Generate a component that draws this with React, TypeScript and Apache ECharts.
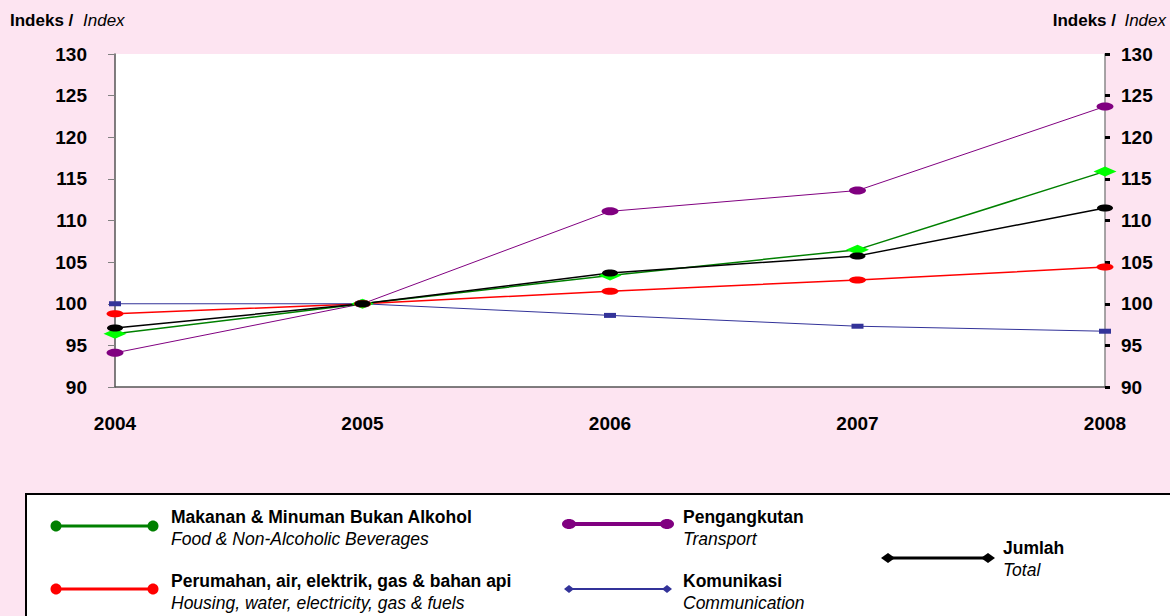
import React, { useEffect, useRef } from "react";
import * as echarts from "echarts";

const years = ["2004", "2005", "2006", "2007", "2008"];
const yTicks = { min: 90, max: 130, interval: 5 };
const food = [96.4, 100, 103.4, 106.5, 115.9];
const housing = [98.8, 100, 101.5, 102.85, 104.4];
const transport = [94.1, 100, 111.1, 113.6, 123.7];
const communication = [100, 100, 98.6, 97.3, 96.7];
const total = [97.1, 100, 103.7, 105.75, 111.5];

const ELLIPSE =
  "path://M0,5C0,2.24 2.24,0 5,0C7.76,0 10,2.24 10,5C10,7.76 7.76,10 5,10C2.24,10 0,7.76 0,5Z";
const FONT = "'Liberation Sans', Arial, sans-serif";

function legendLine(x1: number, x2: number, y: number, color: string, width: number, marker: any) {
  const ends = [x1, x2].map((x) => {
    if (marker.kind === "circle") {
      return { type: "ellipse", shape: { cx: x, cy: y, rx: marker.w / 2, ry: marker.h / 2 }, style: { fill: marker.color || color } };
    }
    return {
      type: "polygon",
      shape: { points: [[x - marker.w / 2, y], [x, y - marker.h / 2], [x + marker.w / 2, y], [x, y + marker.h / 2]] },
      style: { fill: marker.color || color },
    };
  });
  return [{ type: "line", shape: { x1, y1: y, x2, y2: y }, style: { stroke: color, lineWidth: width } }, ...ends];
}

function legendText(x: number, y: number, bold: string, italic: string) {
  return [
    { type: "text", x, y, style: { text: bold, font: `bold 17.5px ${FONT}`, fill: "#000", textVerticalAlign: "middle" } },
    { type: "text", x, y: y + 22, style: { text: italic, font: `italic 17.5px ${FONT}`, fill: "#000", textVerticalAlign: "middle" } },
  ];
}

export default function App() {
  const ref = useRef<HTMLDivElement>(null);
  useEffect(() => {
    if (!ref.current) return;
    const chart = echarts.init(ref.current, undefined, { renderer: "svg" });
    const mk = (name: string, data: number[], color: string, width: number, symbol: string, size: number[], symColor: string) => ({
      name,
      type: "line",
      data,
      yAxisIndex: 0,
      symbol,
      symbolSize: size,
      symbolKeepAspect: false,
      showSymbol: true,
      lineStyle: { color, width },
      itemStyle: { color: symColor },
      emphasis: { disabled: true },
    });
    const yLabel = { fontSize: 19, fontWeight: "bold", color: "#000", fontFamily: FONT };
    chart.setOption({
      animation: false,
      backgroundColor: "#FDE4F1",
      grid: { left: 115, right: 65, top: 54, bottom: 229, show: true, backgroundColor: "#fff", borderWidth: 0 },
      xAxis: {
        type: "category",
        data: years,
        boundaryGap: false,
        axisLine: { lineStyle: { color: "#555", width: 1.5 } },
        axisTick: { show: false },
        axisLabel: { fontSize: 19, fontWeight: "bold", color: "#000", fontFamily: FONT, margin: 27 },
      },
      yAxis: [
        {
          type: "value",
          ...yTicks,
          position: "left",
          axisLine: { show: true, lineStyle: { color: "#555", width: 1.5 } },
          axisTick: { show: true, length: 7, lineStyle: { color: "#808080" } },
          axisLabel: { ...yLabel, margin: 28 },
          splitLine: { show: false },
        },
        {
          type: "value",
          ...yTicks,
          position: "right",
          axisLine: { show: true, lineStyle: { color: "#888", width: 1.5 } },
          axisTick: { show: true, length: 5, lineStyle: { color: "#000", width: 3 } },
          axisLabel: { ...yLabel, margin: 16 },
          splitLine: { show: false },
        },
      ],
      series: [
        mk("Pengangkutan", transport, "#800080", 1, ELLIPSE, [17, 8], "#800080"),
        mk("Makanan", food, "#008000", 1.5, "diamond", [23, 10], "#00FF00"),
        mk("Perumahan", housing, "#FF0000", 1.5, ELLIPSE, [17, 7], "#FF0000"),
        mk("Komunikasi", communication, "#333399", 1, "rect", [12, 5], "#333399"),
        mk("Jumlah", total, "#000000", 1.5, ELLIPSE, [16, 7], "#000000"),
      ],
      graphic: [
        { type: "text", x: 10, y: 20, style: { text: "Indeks /", font: `bold 17px ${FONT}`, fill: "#000", textVerticalAlign: "middle" } },
        { type: "text", x: 83, y: 20, style: { text: "Index", font: `italic 17px ${FONT}`, fill: "#000", textVerticalAlign: "middle" } },
        { type: "text", x: 1116, y: 20, style: { text: "Indeks /", font: `bold 17px ${FONT}`, fill: "#000", textAlign: "right", textVerticalAlign: "middle" } },
        { type: "text", x: 1166, y: 20, style: { text: "Index", font: `italic 17px ${FONT}`, fill: "#000", textAlign: "right", textVerticalAlign: "middle" } },
        { type: "rect", shape: { x: 26, y: 494, width: 1160, height: 140 }, style: { fill: "#fff", stroke: "#000", lineWidth: 2 } },
        ...legendLine(56, 153, 526, "#008000", 3, { kind: "circle", w: 11, h: 11 }),
        ...legendText(171, 517, "Makanan & Minuman Bukan Alkohol", "Food & Non-Alcoholic Beverages"),
        ...legendLine(56, 153, 589, "#FF0000", 3, { kind: "circle", w: 11, h: 11 }),
        ...legendText(171, 581, "Perumahan, air, elektrik, gas & bahan api", "Housing, water, electricity, gas & fuels"),
        ...legendLine(569, 667, 524, "#800080", 4, { kind: "circle", w: 14, h: 10 }),
        ...legendText(683, 517, "Pengangkutan", "Transport"),
        ...legendLine(569, 667, 589, "#333399", 2, { kind: "diamond", w: 10, h: 8 }),
        ...legendText(683, 581, "Komunikasi", "Communication"),
        ...legendLine(888, 988, 558, "#000000", 3, { kind: "diamond", w: 14, h: 10 }),
        ...legendText(1003, 548, "Jumlah", "Total"),
      ],
    });
    return () => chart.dispose();
  }, []);
  return <div ref={ref} style={{ position: "absolute", left: 0, top: 0, width: 1170, height: 616 }} />;
}
